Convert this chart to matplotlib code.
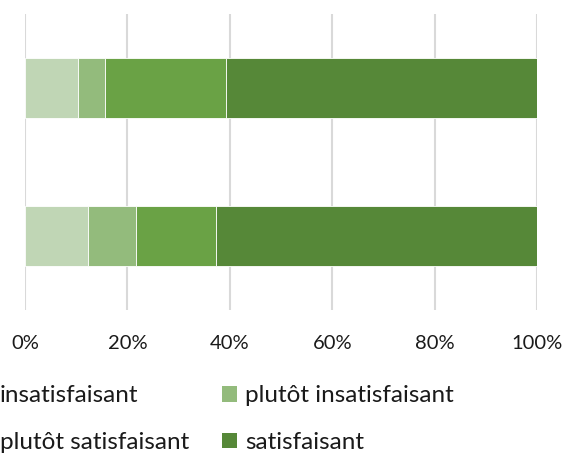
import matplotlib
matplotlib.use("Agg")
import matplotlib.pyplot as plt
from matplotlib.patches import Patch
from matplotlib.ticker import PercentFormatter

plt.rcParams["font.family"] = ["Lato", "DejaVu Sans"]

categories = ["A", "B"]  # bottom bar, top bar
series = ["insatisfaisant", "plutôt insatisfaisant", "plutôt satisfaisant", "satisfaisant"]
insatisfaisant = [12.4, 10.4]
plutot_insatisfaisant = [9.3, 5.2]
plutot_satisfaisant = [15.6, 23.7]
satisfaisant = [62.7, 60.7]
colors = ["#C0D6B5", "#93BB7C", "#6AA245", "#568838"]

values = [insatisfaisant, plutot_insatisfaisant, plutot_satisfaisant, satisfaisant]

W, H = 566, 455
fig = plt.figure(figsize=(W / 100, H / 100), dpi=100)
ax = fig.add_axes([25 / W, 1 - 310 / H, 512 / W, 296 / H])

left = [0.0] * len(categories)
for name, vals, col in zip(series, values, colors):
    ax.barh(range(len(categories)), vals, left=left, height=0.4, color=col,
            edgecolor="white", linewidth=0.6, label=name, zorder=3)
    left = [l + v for l, v in zip(left, vals)]

ax.set_xlim(0, 100)
ax.set_ylim(-0.5, 1.5)
ax.set_xticks([0, 20, 40, 60, 80, 100])
ax.xaxis.set_major_formatter(PercentFormatter(decimals=0))
ax.set_yticks([])
ax.grid(axis="x", color="#D9D9D9", linewidth=1.5, zorder=0)
for s in ax.spines.values():
    s.set_visible(False)
ax.tick_params(axis="x", length=0, pad=18, labelsize=14.5, labelcolor="#1a1a1a")

# legend, row-major order like the original
fs = 17.5
handles = [Patch(facecolor=c, edgecolor="none") for c in colors]
order = [0, 2, 1, 3]
leg = fig.legend([handles[i] for i in order], [series[i] for i in order],
                 ncol=2, loc="upper left", bbox_to_anchor=(0.2, 0.2), frameon=False,
                 prop={"size": fs}, handlelength=0.62, handleheight=0.62,
                 handletextpad=0.33, columnspacing=1.36, labelspacing=1.05,
                 borderpad=0, borderaxespad=0, labelcolor="#1a1a1a")

# shift legend so the first column text starts at the left edge, first row at y~396
fig.canvas.draw()
r = fig.canvas.get_renderer()
tb = leg.get_texts()[0].get_window_extent(r)
lb = leg.get_window_extent(r)
dx = 0 - tb.x0
dy = (H - 396) - (tb.y0 + tb.y1) / 2
leg.set_bbox_to_anchor(((lb.x0 + dx) / W, (lb.y1 + dy) / H), transform=fig.transFigure)

fig.savefig("out.png", dpi=100)
